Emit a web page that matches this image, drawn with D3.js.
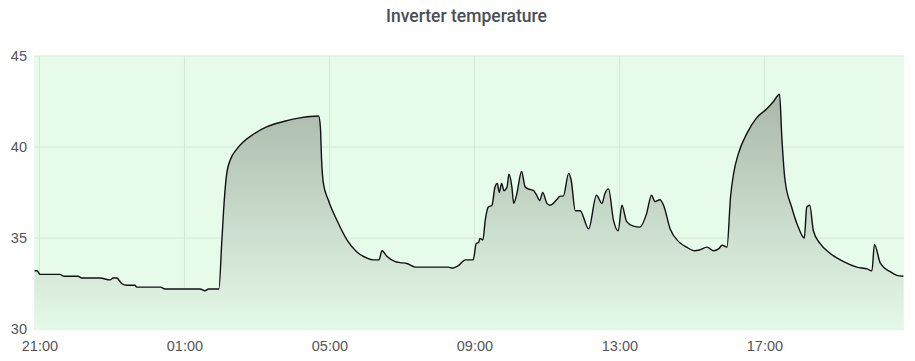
<!DOCTYPE html>
<html>
<head>
<meta charset="utf-8">
<script src="https://cdn.jsdelivr.net/npm/d3@7"></script>
<style>
  body { margin: 0; background: #fff; font-family: Roboto, "Noto Sans", sans-serif; }
  .tick text { fill: #555; font-size: 14.5px; }
</style>
</head>
<body>
<div id="container"></div>
<script>
/* Data */
var chartTitle = "Inverter temperature";
var startTime = "20:51", endTime = "20:51";
var times = ["20:52","20:56","21:01","21:34","21:40","22:04","22:10","22:40","22:57","23:02",
  "23:08","23:16","23:25","23:38","23:41","00:20","00:28","01:26","01:34","01:40",
  "01:57","02:02","02:06","02:10","02:16","02:27","02:38","02:54","03:16","03:44",
  "04:11","04:42","04:45","04:47","04:50","04:58","05:12","05:29","05:45","06:02",
  "06:13","06:22","06:27","06:35","06:49","06:57","07:08","07:22","08:17","08:23",
  "08:34","08:45","08:58","09:03","09:07","09:09","09:14","09:18","09:23","09:29",
  "09:34","09:38","09:41","09:45","09:49","09:54","09:57","10:02","10:05","10:10",
  "10:18","10:24","10:29","10:38","10:43","10:48","10:53","11:00","11:05","11:16",
  "11:22","11:27","11:36","11:40","11:47","11:55","12:09","12:22","12:31","12:36",
  "12:42","12:50","12:58","13:04","13:12","13:23","13:34","13:45","13:53","13:59",
  "14:07","14:13","14:24","14:38","14:51","15:05","15:13","15:25","15:36","15:44",
  "15:50","15:58","16:04","16:09","16:17","16:31","16:47","17:04","17:15","17:25",
  "17:29","17:34","17:45","17:56","18:06","18:10","18:15","18:21","18:32","18:49",
  "19:11","19:33","19:50","19:58","20:02","20:12","20:28","20:39","20:50"];
var temps = [33.2,33.2,33.0,33.0,32.9,32.9,32.8,32.8,32.7,32.8,
  32.8,32.5,32.4,32.4,32.3,32.3,32.2,32.2,32.1,32.2,
  32.2,34.9,37.1,38.55,39.3,39.9,40.3,40.7,41.1,41.4,
  41.6,41.7,41.1,39.3,38.0,37.1,36.0,34.9,34.25,33.9,
  33.8,33.8,34.3,34.0,33.7,33.65,33.6,33.4,33.4,33.35,
  33.5,33.8,33.8,34.7,34.75,34.98,34.9,36.0,36.7,36.8,
  37.8,38.0,37.5,38.0,37.6,37.8,38.5,37.8,36.9,37.4,
  38.65,37.8,37.7,37.6,37.35,37.05,37.5,36.9,36.8,37.1,
  37.3,37.3,38.55,38.2,36.5,36.5,35.5,37.35,36.9,37.45,
  37.7,36.0,35.4,36.8,35.9,35.65,35.6,36.35,37.35,37.0,
  37.1,36.8,35.5,34.8,34.5,34.3,34.35,34.5,34.3,34.4,
  34.6,34.5,37.3,38.55,39.65,40.75,41.6,42.1,42.5,42.9,
  40.4,38.2,36.7,35.6,35.0,36.7,36.8,35.4,34.7,34.15,
  33.7,33.4,33.3,33.2,34.65,33.6,33.15,32.95,32.9];
var yTicks = [30, 35, 40, 45];
var xTickLabels = ["21:00","01:00","05:00","09:00","13:00","17:00"];

/* Build dates, rolling over midnight */
function toDate(str, day) {
	var p = str.split(":");
	return new Date(2023, 5, 1 + day, +p[0], +p[1]);
}
var day = 0, prev = -1;
var dataset = times.map(function(t, i) {
	var mins = +t.split(":")[0] * 60 + +t.split(":")[1];
	if (prev >= 0 && mins < prev) day++;
	prev = mins;
	return { x: toDate(t, day), y: temps[i] };
});
var xMin = toDate(startTime, 0), xMax = toDate(endTime, 1);

var w = 915, h = 361;
var margin = {top: 56, right: 11, bottom: 32, left: 34};
var width = w - margin.left - margin.right,
	height = h - margin.top - margin.bottom;

var svg = d3.select("#container").append("svg")
	.attr("width", w)
	.attr("height", h);

svg.append("text")
	.attr("x", w / 2 + 9)
	.attr("y", 22)
	.attr("text-anchor", "middle")
	.style("font-size", "17.5px")
	.style("font-weight", "500")
	.style("fill", "#4a4f55")
	.text(chartTitle);

var chart = svg.append("g")
	.attr("transform", "translate(" + margin.left + "," + margin.top + ")");

/* Scales */
var xScale = d3.scaleTime().domain([xMin, xMax]).range([0, width]),
	yScale = d3.scaleLinear().domain([30, 45]).range([height, 0]);

/* Background */
chart.append("rect")
	.attr("width", width)
	.attr("height", height)
	.attr("fill", "#e7fbeb");

/* Gradient for area */
var defs = svg.append("defs");
var grad = defs.append("linearGradient")
	.attr("id", "areaGrad")
	.attr("gradientUnits", "userSpaceOnUse")
	.attr("x1", 0).attr("x2", 0)
	.attr("y1", yScale(d3.max(temps))).attr("y2", height);
grad.append("stop").attr("offset", "0%").attr("stop-color", "#a9b8aa");
grad.append("stop").attr("offset", "100%").attr("stop-color", "#e5f9e8");

/* Grid */
var xTickDates = xTickLabels.map(function(t, i) { return toDate(t, i === 0 ? 0 : 1); });
chart.append("g")
	.selectAll("line.h")
	.data(yTicks)
	.enter().append("line")
	.attr("x1", 0).attr("x2", width)
	.attr("y1", d => yScale(d)).attr("y2", d => yScale(d))
	.attr("stroke", "#d2e8d6").attr("stroke-width", 1);
chart.append("g")
	.selectAll("line.v")
	.data(xTickDates)
	.enter().append("line")
	.attr("x1", d => xScale(d)).attr("x2", d => xScale(d))
	.attr("y1", 0).attr("y2", height)
	.attr("stroke", "#d2e8d6").attr("stroke-width", 1);

/* Area + line */
var area = d3.area()
	.x(d => xScale(d.x))
	.y0(height)
	.y1(d => yScale(d.y))
	.curve(d3.curveMonotoneX);
var line = d3.line()
	.x(d => xScale(d.x))
	.y(d => yScale(d.y))
	.curve(d3.curveMonotoneX);

chart.append("path")
	.datum(dataset)
	.attr("d", area)
	.attr("fill", "url(#areaGrad)");
chart.append("path")
	.datum(dataset)
	.attr("d", line)
	.attr("fill", "none")
	.attr("stroke", "#111")
	.attr("stroke-width", 1.4);

/* Axes */
var xAxis = d3.axisBottom(xScale)
	.tickValues(xTickDates)
	.tickFormat(d3.timeFormat("%H:%M"))
	.tickSize(0).tickPadding(12);
chart.append("g")
	.attr("transform", "translate(0," + height + ")")
	.call(xAxis)
	.call(g => g.select(".domain").remove());

var yAxis = d3.axisLeft(yScale)
	.tickValues(yTicks)
	.tickSize(0).tickPadding(7);
chart.append("g")
	.call(yAxis)
	.call(g => g.select(".domain").remove());
</script>
</body>
</html>
